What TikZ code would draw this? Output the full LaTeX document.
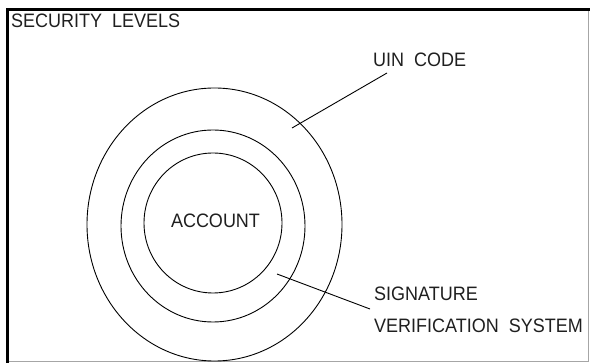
\documentclass[tikz,border=0pt]{standalone}
\usepackage{fontspec}
\setmainfont{Liberation Sans}
\usetikzlibrary{shapes.geometric}
% slightly tall lettering
\newcommand{\tallcaps}[1]{\scalebox{1}[1.08]{#1}}
\begin{document}
\begin{tikzpicture}[x=1pt,y=-1pt,
  ring/.style={ellipse,draw,line width=0.9pt,inner sep=0pt,outer sep=0pt},
  label/.style={anchor=base west,inner sep=0pt,font=\fontsize{18}{20}\selectfont,text=black!88},
  pointer/.style={line width=0.9pt}]
  \useasboundingbox (0,0) rectangle (590,363);
  % frame: heavy top and left edges, light right and bottom edges
  \draw[black!35,line width=0.8pt] (588,9.5) -- (588,361.5) -- (7.5,361.5);
  \draw[black,line width=2.6pt] (7.5,363) -- (7.5,9.5) -- (590,9.5);

  % title
  \node[label] (title) at (11,28) {\tallcaps{SECURITY\ \ LEVELS}};

  % concentric security rings
  \node[ring,minimum width=255pt,minimum height=273pt] (outer) at (214.5,224.5) {};
  \node[ring,minimum width=184pt,minimum height=192pt] (middle) at (213,226) {};
  \node[ring,minimum width=138pt,minimum height=140pt] (inner) at (213,223) {};
  \node[font=\fontsize{18}{20}\selectfont,text=black!88,inner sep=0pt] (account) at (215.5,221) {\tallcaps{ACCOUNT}};

  % labels for the outer rings
  \node[label] (uin) at (373,67) {\tallcaps{UIN\ \ CODE}};
  \node[label] (sig) at (374,301) {\tallcaps{SIGNATURE}};
  \node[label] (ver) at (374,333) {\tallcaps{VERIFICATION\ \ SYSTEM}};

  % leader lines
  \coordinate (uinend) at (292,128);
  \coordinate (sigend) at (277,274);
  \draw[pointer] ([xshift=14pt,yshift=-6pt]uin.base west) -- (uinend);
  \draw[pointer] ([xshift=-4pt,yshift=-8pt]sig.base west) -- (sigend);
\end{tikzpicture}
\end{document}
